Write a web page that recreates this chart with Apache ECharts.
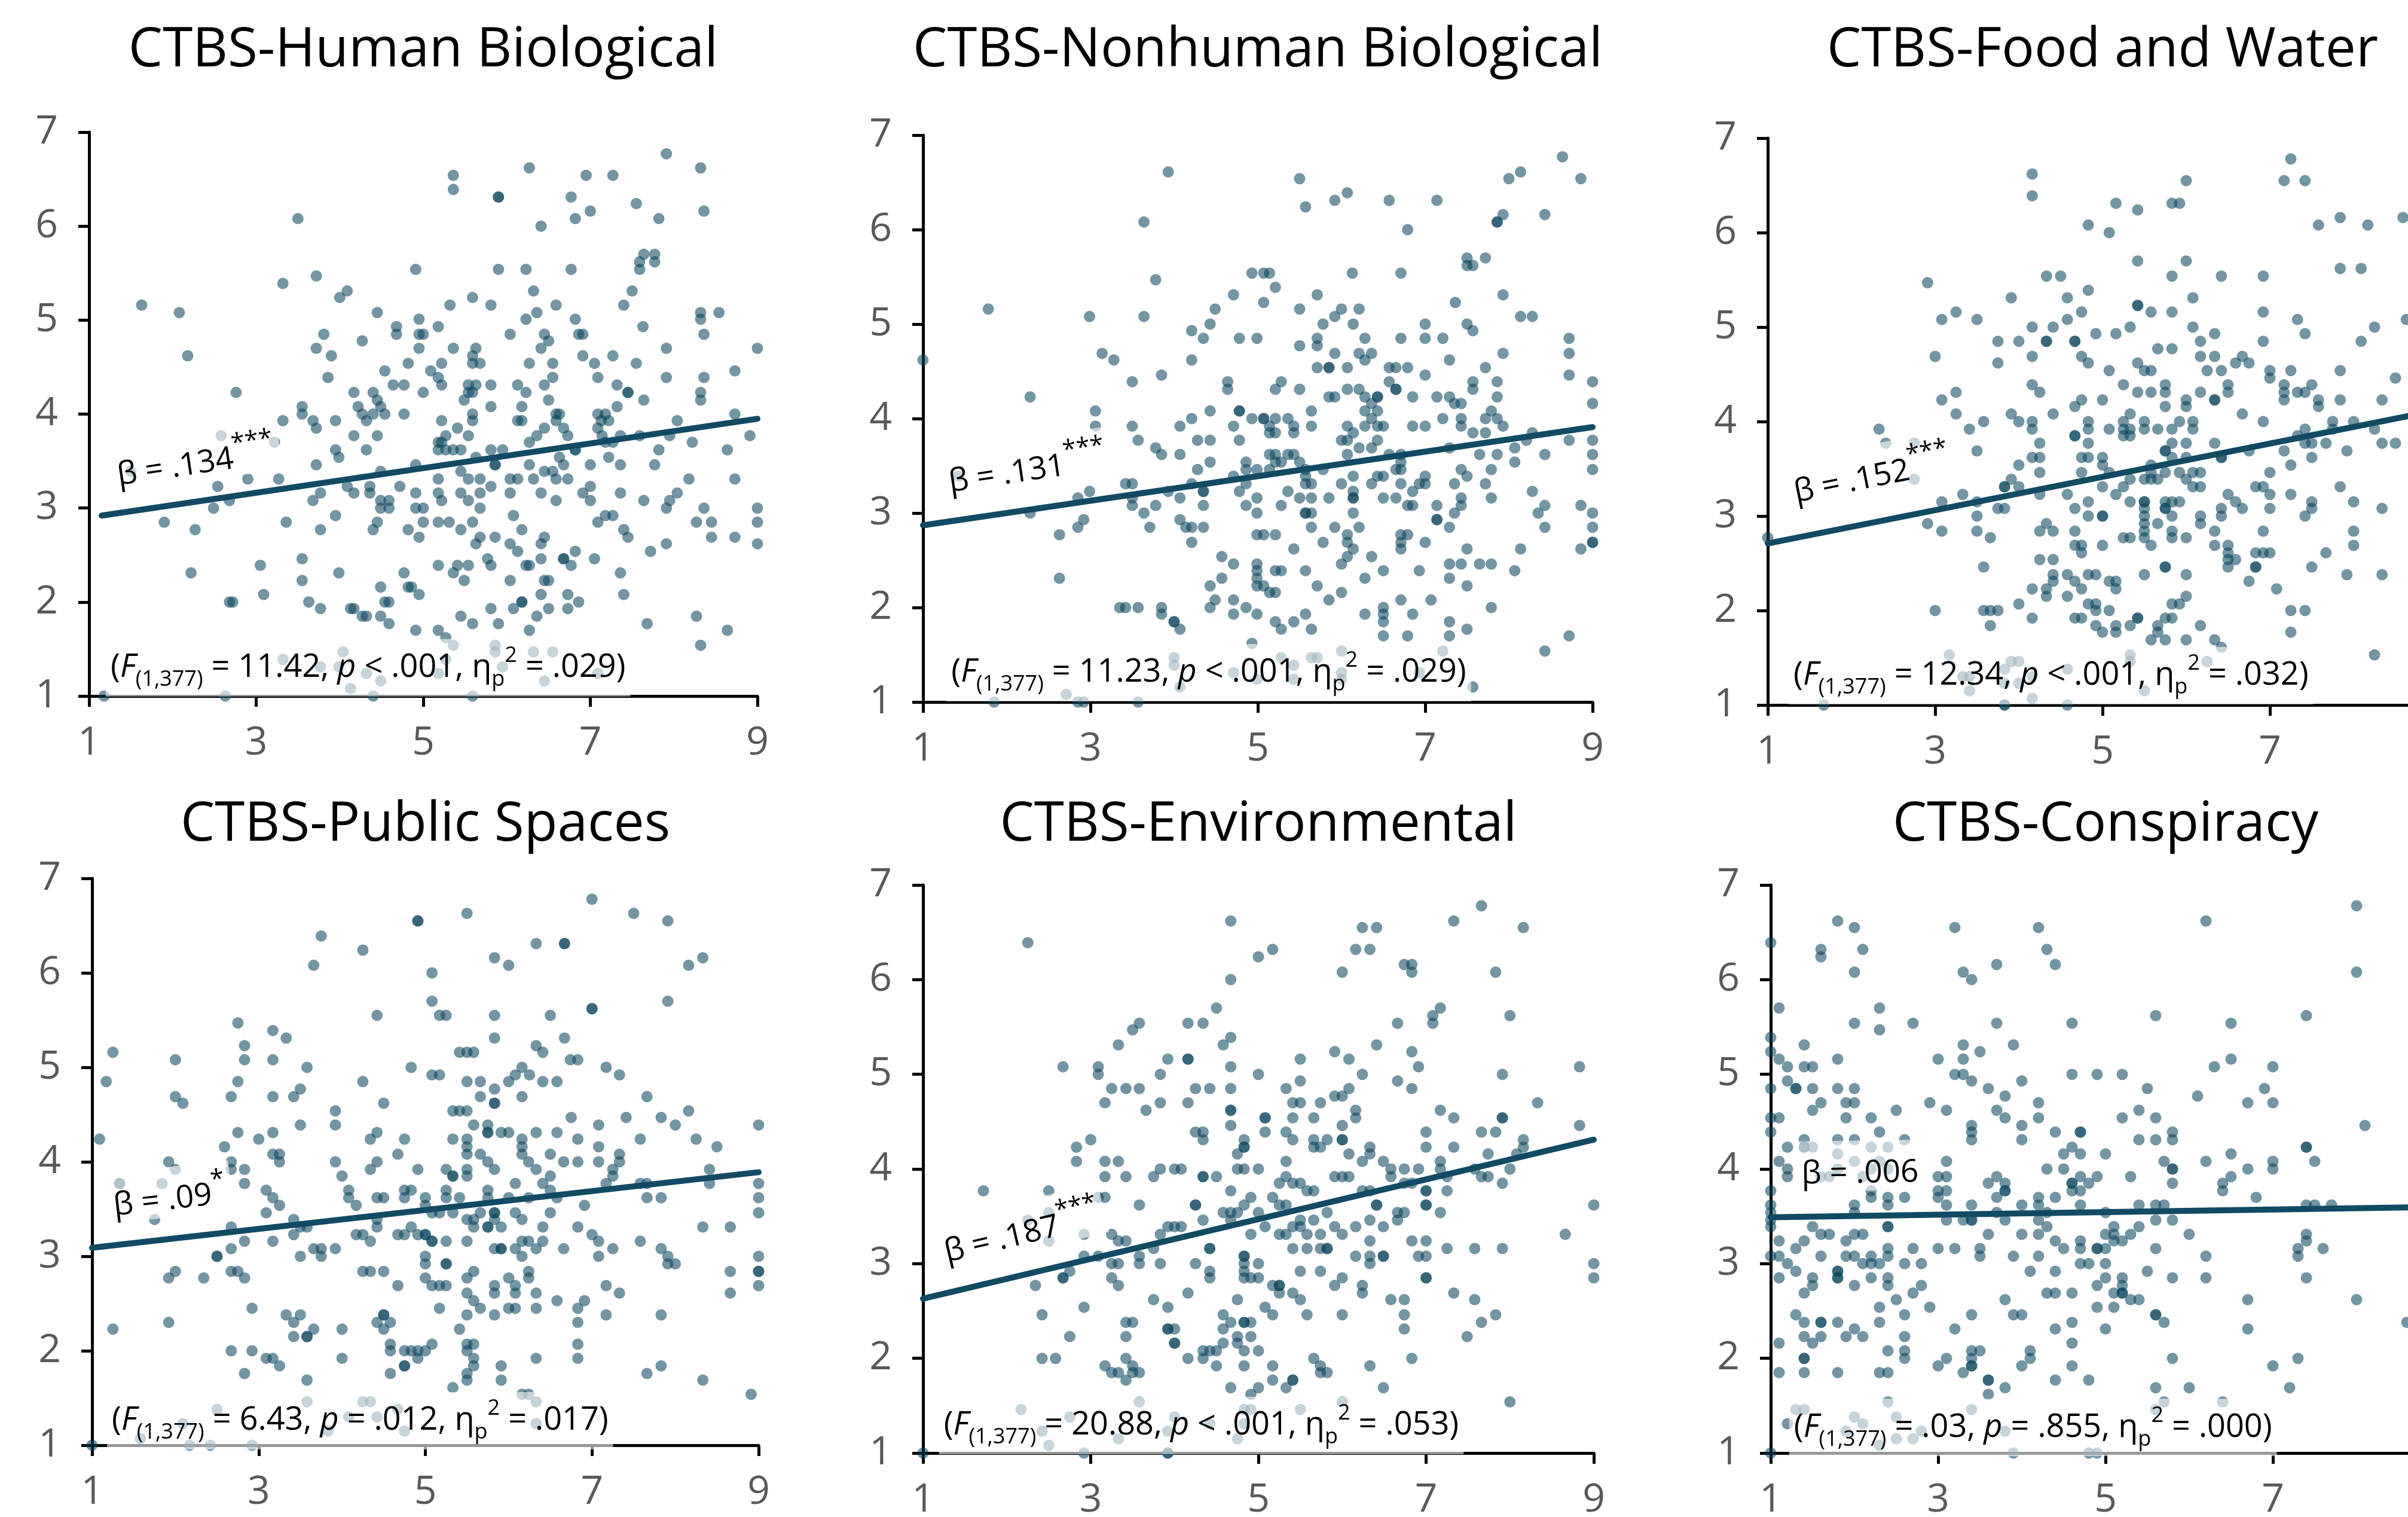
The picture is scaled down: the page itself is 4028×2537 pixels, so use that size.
<!DOCTYPE html>
<html>
<head>
<meta charset="utf-8">
<script src="https://cdn.jsdelivr.net/npm/echarts@6/dist/echarts.min.js"></script>
<style>
  html, body { margin: 0; padding: 0; background: #fff; }
  #chart { width: 4028px; height: 2537px; }
</style>
</head>
<body>
<div id="chart"></div>
<script>
// ---- data: each row is [y, [x, x, ...]] ----
const humanBioRows = [
  [6.77,[7.91]],[6.62,[6.27,8.32]],[6.54,[5.36,6.95,7.27]],[6.39,[5.36]],[6.31,[5.9,5.9,6.77]],
  [6.24,[7.55]],[6.16,[7.0,8.36]],[6.08,[3.5,6.82,7.82]],[6.0,[6.41]],[5.70,[7.64,7.77]],
  [5.62,[7.59,7.77]],[5.54,[4.91,5.90,6.23,6.77,7.59]],[5.47,[3.72]],[5.39,[3.32]],[5.31,[4.09,6.32,7.50]],
  [5.24,[4.0,5.59]],[5.16,[1.63,5.32,5.81,6.59,7.40]],[5.08,[2.08,4.45,6.36,8.32,8.54]],
  [5.01,[4.95,6.23,6.82,8.32]],[4.93,[4.68,5.18,7.63]],[4.85,[3.81,4.68,4.95,5.0,6.04,6.45,6.86,6.91,8.36]],
  [4.78,[4.27,6.50]],[4.70,[3.72,4.95,5.36,5.63,6.41,7.91,9.0]],[4.62,[2.18,3.90,5.59,6.91,7.27]],
  [4.54,[4.82,5.22,5.59,5.68,6.27,6.55,7.05,7.55]],[4.46,[4.54,5.09,8.73]],[4.39,[3.86,5.18,6.55,7.09,7.91,8.36]],
  [4.31,[4.64,4.77,5.22,5.54,5.63,5.81,6.13,6.45,7.32]],[4.23,[2.76,4.17,4.40,5.0,5.54,5.59,6.23,7.45,7.45,8.32]],
  [4.15,[4.45,5.49,6.50,7.64,8.32]],[4.08,[3.55,4.22,4.49,5.81,6.18,7.32]],
  [4.00,[3.55,4.27,4.40,4.54,4.77,5.59,6.59,6.63,7.09,7.18,8.73]],
  [3.93,[3.32,3.68,3.95,4.32,5.22,5.59,6.13,6.18,6.59,7.13,7.22,8.04]],[3.85,[3.72,5.41,6.45,6.68,7.09]],
  [3.77,[2.58,4.17,4.45,5.27,5.54,6.36,6.73,7.14,7.36,7.59,7.95,8.91]],[3.70,[3.22,5.18,5.22,6.27,7.18,7.27,8.22]],
  [3.62,[3.95,4.32,5.18,5.27,5.36,5.45,5.81,5.95,6.82,6.82,7.82,8.64]],[3.54,[3.99,5.63,6.63,7.22]],
  [3.46,[3.72,4.91,5.86,5.86,6.27,6.68,7.0,7.36,7.77]],[3.39,[1.5,4.49,5.45,6.45,6.55]],
  [3.31,[2.90,3.27,5.18,5.54,5.68,6.04,6.13,6.32,6.59,6.73,8.18,8.73]],[3.23,[2.54,4.09,4.36,4.72,5.81,7.0]],
  [3.16,[3.77,4.17,4.36,4.91,5.18,5.45,5.68,6.04,6.41,6.91,7.36,8.04]],
  [3.08,[2.68,3.68,4.49,4.59,5.22,5.54,6.59,7.0,7.64,7.95]],[3.00,[2.49,4.49,4.59,4.91,5.0,5.68,7.91,8.36,9.0]],
  [2.92,[3.95,6.08,7.18,7.27]],[2.85,[1.90,3.36,4.45,5.0,5.18,5.31,5.59,7.09,8.27,8.45,9.0]],
  [2.77,[2.27,3.77,4.40,4.82,5.45,6.18,7.40]],[2.69,[4.95,5.68,5.86,6.45,7.45,8.45,8.73]],
  [2.62,[5.63,6.04,6.41,7.91,9.0]],[2.54,[6.13,6.82,7.72]],[2.46,[3.55,5.77,6.41,6.68,6.68,7.05]],
  [2.39,[3.05,5.18,5.41,5.54,5.81,6.23,6.27,6.77]],[2.31,[2.22,3.99,4.77,5.36,7.36]],
  [2.23,[3.55,5.49,6.04,6.45,6.50]],[2.16,[4.49,4.82,4.86]],[2.08,[3.09,4.95,6.41,6.73,7.40]],
  [2.00,[2.68,2.72,3.63,4.54,4.59,6.18,6.18,6.86]],[1.93,[3.77,4.13,4.17,5.81,6.08,6.50,6.73]],
  [1.85,[4.27,4.32,4.49,5.45,6.36,8.27]],[1.77,[4.59,5.59,5.90,7.68]],[1.70,[4.91,5.18,6.27,8.64]],
  [1.62,[5.27]],[1.54,[5.36,5.86,8.32]],[1.47,[4.04,5.86,6.32,6.55]],[1.39,[3.32,5.27]],
  [1.31,[3.77,3.99,5.95]],[1.24,[4.32,5.18,7.09]],[1.16,[4.49,6.45]],[1.08,[4.13]],[1.00,[1.18,2.63,4.40,5.59]]
];
const nonhumanBioRows = [
  [6.77,[8.64]],[6.61,[3.93,8.14]],[6.54,[5.50,8.0,8.86]],[6.39,[6.07]],[6.31,[5.92,6.57,7.14]],
  [6.24,[5.57]],[6.16,[7.93,8.43]],[6.08,[3.64,7.86,7.86]],[6.0,[6.79]],[5.70,[7.50,7.72]],
  [5.62,[7.50,7.57]],[5.54,[4.93,5.07,5.14,6.13,6.71]],[5.47,[3.78]],[5.39,[5.21]],[5.31,[4.71,5.71,7.93]],
  [5.23,[5.07,7.36]],[5.16,[1.78,4.49,5.50,6.0,6.21]],[5.08,[2.99,3.64,5.92,8.14,8.28]],
  [5.0,[4.43,5.78,6.14,7.0,7.50]],[4.93,[4.21,7.57]],[4.85,[4.35,4.78,4.99,5.71,6.28,6.71,7.0,7.21,8.72]],
  [4.77,[5.50,5.71]],[4.69,[3.14,5.92,6.21,6.36,7.93,8.72]],[4.62,[1.0,3.28,4.21,6.28,7.29]],
  [4.54,[5.71,5.85,5.85,6.07,6.57,6.65,6.79,7.72]],[4.46,[3.85,7.0,8.72]],
  [4.39,[3.50,4.64,5.28,6.57,7.57,7.86,9.0]],[4.31,[4.64,5.21,5.50,6.07,6.21,6.65,6.65,7.57]],
  [4.23,[2.28,5.85,5.92,6.28,6.43,6.43,6.85,7.14,7.29,7.86]],[4.16,[6.36,7.35,7.43,9.0]],
  [4.08,[3.06,4.43,4.78,4.78,5.64,6.28,6.43,7.79]],[4.0,[4.21,4.93,5.07,5.07,5.21,5.36,6.36,7.21,7.43,7.72,7.86]],
  [3.92,[3.06,3.50,4.07,4.71,5.14,5.43,5.64,6.07,6.28,6.43,6.50,6.85,7.0,7.43,7.93]],
  [3.85,[5.14,5.21,5.43,6.14,7.57,7.72,8.28]],[3.77,[3.57,4.28,4.43,4.78,6.0,6.07,6.43,8.21,8.72,9.0]],
  [3.69,[3.78,6.21,6.36,7.29,8.07]],[3.62,[3.85,4.07,5.14,5.21,5.36,5.43,6.07,6.57,6.71,7.65,7.86,8.43,9.0]],
  [3.54,[4.43,4.86,5.21,5.28,5.50,6.71,8.07]],[3.46,[4.28,4.86,4.99,5.14,5.57,5.78,6.65,6.71,7.43,7.79,9.0]],
  [3.39,[1.42,4.71,5.57,6.14,6.43,6.50,7.0,7.50]],
  [3.31,[3.42,3.50,4.21,4.86,5.57,5.64,6.0,6.36,6.71,6.93,7.0,7.35,7.72]],
  [3.23,[2.99,3.93,4.35,4.35,4.78,5.36,6.14,6.85,8.28]],
  [3.16,[2.85,3.50,4.07,4.99,5.50,5.64,5.85,6.14,6.14,6.50,6.65,7.43,7.79]],
  [3.08,[3.50,3.78,4.35,4.86,5.28,6.79,6.85,7.14,7.43,8.43,8.86]],
  [3.0,[2.28,3.64,4.99,5.57,5.57,5.64,6.14,7.35,8.35,9.0]],[2.93,[2.92,4.07,7.14,7.14]],
  [2.85,[2.85,3.71,4.14,4.21,4.35,5.64,5.92,6.21,7.29,8.43,9.0]],[2.77,[2.63,4.99,5.07,5.21,6.07,6.71,6.79]],
  [2.69,[4.21,5.78,6.07,6.71,7.0,9.0,9.0]],[2.62,[5.43,6.14,6.71,7.50,8.14,8.86]],[2.54,[4.57,6.07,6.36]],
  [2.46,[4.71,4.99,6.0,7.29,7.43,7.65,7.79]],[2.39,[4.99,5.21,5.28,5.57,6.50,6.93,8.07]],
  [2.31,[2.63,4.57,4.99,6.28,7.29]],[2.23,[4.43,4.99,5.07,5.71,7.50]],[2.16,[5.14,5.21,6.0]],
  [2.08,[4.49,4.71,5.85,6.71,7.07]],[2.0,[3.35,3.42,3.57,3.85,4.43,4.86,6.50,7.79]],
  [1.93,[3.85,4.71,4.99,5.57,6.28,6.50,6.85]],[1.85,[4.0,4.0,5.21,5.43,6.50,7.29]],[1.77,[4.07,5.28,5.64,7.50]],
  [1.70,[6.50,6.79,7.29,8.72]],[1.62,[4.93]],[1.54,[6.0,7.21,8.43]],[1.47,[4.0,5.28,5.64,5.71]],
  [1.39,[4.0,5.43]],[1.31,[4.71,6.0,6.93]],[1.24,[4.99,5.43,6.0]],[1.16,[4.07,7.57]],[1.08,[2.71]],
  [1.0,[1.85,2.85,2.92,3.57]]
];
const foodWaterRows = [
  [6.78,[7.25]],[6.62,[4.16]],[6.55,[6.0,7.17,7.42]],[6.39,[4.16]],[6.31,[5.16,5.83,5.92]],[6.24,[5.42]],
  [6.16,[7.84,8.59]],[6.08,[4.83,7.58,8.17]],[6.0,[5.08]],[5.70,[5.42,6.0]],[5.62,[7.84,8.09]],
  [5.54,[4.33,4.50,5.83,6.42,6.92]],[5.47,[2.91]],[5.39,[4.83]],[5.31,[3.91,4.58,6.08]],[5.23,[5.42,5.42]],
  [5.16,[3.25,4.75,5.58,5.83,6.92]],[5.08,[3.08,3.50,4.58,7.33,8.63]],[5.0,[4.16,4.41,5.33,6.08,8.25]],
  [4.93,[4.92,5.16,6.34,7.42]],[4.85,[3.75,4.0,4.33,4.33,4.67,4.67,6.17,6.92,8.09]],[4.77,[5.66,5.83]],
  [4.69,[3.0,4.16,4.75,6.17,6.34,6.67]],[4.62,[3.75,4.83,5.42,6.59,6.75]],
  [4.54,[5.08,5.50,5.58,6.25,6.42,7.0,7.25,7.84]],[4.46,[7.0,8.50]],[4.39,[4.16,5.25,5.75,6.50,7.17,7.50]],
  [4.31,[3.25,4.25,5.42,5.58,5.75,6.17,6.50,7.17,7.33,7.42]],
  [4.23,[3.08,4.75,5.0,6.0,6.34,6.34,7.17,7.58,7.84,8.34]],[4.16,[4.67,5.75,6.0,7.58]],
  [4.08,[3.25,3.91,4.41,5.33,6.67]],[4.0,[3.58,4.0,4.16,4.83,5.25,5.50,5.92,6.08,6.92,7.75,8.0]],
  [3.92,[2.33,3.41,4.16,4.83,5.08,5.25,5.33,5.50,5.66,5.83,6.08,7.42,7.75,8.25]],
  [3.85,[4.67,4.67,5.25,5.33,7.33]],[3.77,[2.41,2.75,4.25,4.83,5.83,6.0,6.34,7.42,7.50,7.67,8.34,8.50]],
  [3.69,[3.50,5.75,5.75,6.75,7.17,7.92]],[3.62,[4.16,4.25,4.75,4.83,5.0,5.83,6.0,6.42,6.42,7.50]],
  [3.54,[4.0,5.0,5.58,7.25]],[3.46,[4.25,4.75,5.08,5.58,5.75,5.92,6.08,6.17,7.0]],
  [3.39,[2.75,3.91,5.33,5.50,5.58,5.66,6.0]],[3.31,[3.83,3.83,4.0,5.0,5.25,6.08,6.17,6.83,6.92,7.84]],
  [3.23,[3.33,4.25,4.58,5.16,6.50,7.0,7.25]],[3.15,[3.08,3.50,4.83,5.33,5.50,5.50,5.75,5.83,5.92,6.59,7.50,8.0]],
  [3.08,[3.75,3.83,4.67,5.50,5.75,5.75,6.42,6.67,7.0,7.50,8.34]],
  [3.0,[3.50,4.83,5.0,5.0,5.50,5.83,6.17,6.42,7.42]],[2.92,[2.91,4.33,5.50,5.66,6.17]],
  [2.84,[3.08,3.50,4.25,4.41,4.67,5.50,5.83,6.34,6.92,8.0]],[2.77,[1.0,3.66,5.25,5.33,5.50,5.83,6.0]],
  [2.69,[4.67,4.75,5.0,5.58,6.34,6.50,8.0]],[2.61,[4.75,6.50,6.83,6.92,7.0,7.67]],[2.54,[4.25,4.41,6.50,6.59]],
  [2.46,[3.58,5.75,5.75,6.50,6.83,6.83,7.50]],[2.38,[4.41,4.58,4.83,4.92,5.50,6.0,7.92,8.34]],
  [2.31,[4.41,4.67,5.08,5.16,6.75]],[2.23,[4.16,4.33,4.75,5.16,7.08]],[2.15,[4.33,4.58,6.0]],
  [2.07,[4.0,4.83,4.92,5.83,5.92]],[2.0,[3.0,3.58,3.66,3.75,4.92,5.08,7.25,7.42]],
  [1.92,[4.16,4.67,4.75,5.42,5.42,5.75,5.83]],[1.84,[3.66,4.92,5.16,5.33,5.66,6.17]],[1.77,[5.0,5.16,5.66,7.25]],
  [1.69,[5.58,5.75,6.0,6.34]],[1.61,[6.42]],[1.53,[3.17,5.33,8.25]],[1.46,[3.91,4.0,5.33,6.25]],
  [1.38,[3.83,4.58]],[1.30,[3.33,3.41,4.16]],[1.23,[3.83,4.0]],[1.15,[3.41,5.50]],[1.07,[4.16]],
  [1.0,[1.67,3.83,3.83,4.58]]
];
const publicSpacesRows = [
  [6.78,[7.0]],[6.63,[5.50,7.50]],[6.55,[4.91,4.91,7.91]],[6.39,[3.75]],[6.31,[6.33,6.67,6.67]],[6.24,[4.25]],
  [6.16,[5.83,8.33]],[6.08,[3.66,6.0,8.16]],[6.0,[5.08]],[5.70,[5.08,7.91]],[5.62,[7.0,7.0]],
  [5.55,[4.42,5.17,5.25,5.83,6.50]],[5.47,[2.75]],[5.39,[3.17]],[5.31,[3.33,5.83,6.67]],[5.23,[2.83,6.33]],
  [5.16,[1.25,5.41,5.50,5.58,6.41]],[5.08,[2.0,2.83,3.17,6.74,6.83]],[5.0,[3.58,4.83,6.16,7.17]],
  [4.92,[5.08,5.17,6.08,6.25,7.33]],[4.85,[1.17,2.75,4.25,5.50,5.66,6.0,6.41,6.58]],[4.77,[3.50,5.83]],
  [4.69,[2.0,2.67,3.17,3.42,5.66,6.16,7.66]],[4.62,[2.09,4.50,5.83,5.83]],[4.54,[3.92,5.33,5.41,5.50,8.16]],
  [4.47,[6.75,7.41,7.83]],[4.39,[3.50,3.92,5.58,5.75,7.08,8.0,9.0]],
  [4.31,[2.75,3.17,4.42,5.75,5.75,5.91,6.0,6.33,6.58]],[4.24,[1.09,3.0,4.34,4.75,5.33,5.50,6.16,6.83,7.58,8.25]],
  [4.16,[2.59,5.50,6.16,7.08,8.50]],[4.08,[3.17,3.25,4.67,5.50,5.66,6.16,6.50,7.33]],
  [4.0,[1.92,2.67,3.25,3.92,4.42,5.75,6.24,6.66,6.83,7.08,7.33]],
  [3.92,[2.0,2.67,2.83,4.34,4.91,5.25,5.50,5.83,6.33,7.25,8.41]],[3.85,[4.0,5.33,5.33,5.50,6.50,7.25]],
  [3.77,[1.33,1.33,1.84,2.83,6.08,6.41,7.17,7.58,7.66,8.41,9.0]],[3.70,[3.09,4.08,4.75,4.83,5.25,5.75,6.50]],
  [3.62,[3.17,4.08,4.42,4.50,4.75,5.0,5.25,5.41,5.75,6.0,6.24,6.58,7.66,7.83,9.0]],[3.54,[3.25,4.17,5.0,6.91]],
  [3.46,[3.09,5.08,5.17,5.33,5.66,5.83,5.83,6.08,6.50,9.0]],[3.39,[1.75,3.42,4.42,5.50,5.58,5.83,6.16]],
  [3.31,[2.67,3.50,3.58,4.42,4.83,5.58,5.75,5.75,5.91,6.41,6.83,8.33,8.66]],
  [3.23,[3.42,4.17,4.25,4.67,4.75,4.91,5.0,5.0,7.0]],
  [3.16,[2.83,3.17,4.34,5.08,5.08,5.25,5.50,6.16,6.24,6.41,7.08,7.58]],
  [3.08,[2.67,3.66,3.75,3.92,5.83,5.91,5.91,6.08,6.33,6.66,7.25,7.83]],
  [3.0,[2.50,2.50,3.50,3.75,5.0,6.16,7.08,7.91,9.0]],[2.92,[5.0,5.25,5.25,7.91,8.0]],
  [2.84,[2.0,2.67,2.75,4.25,4.34,4.50,5.58,6.24,8.66,9.0,9.0]],[2.77,[1.92,2.34,2.83,5.0,5.50,6.0,6.24]],
  [2.69,[4.67,5.08,5.17,5.25,5.83,6.08,7.17,9.0]],[2.61,[5.50,5.83,6.08,6.33,7.33,8.66]],[2.53,[5.58,6.58,6.91]],
  [2.45,[2.92,5.17,5.66,6.0,6.08,6.33,6.83]],[2.38,[3.33,3.50,4.50,4.50,5.50,5.83,7.17,7.83]],
  [2.30,[1.92,3.42,4.42,4.58,6.83]],[2.23,[1.25,3.66,4.0,4.50,5.41]],[2.15,[3.42,3.58,3.58]],
  [2.07,[4.58,5.08,5.50,5.58,6.83]],[2.0,[2.67,2.92,4.58,4.75,4.83,4.91,5.0,5.50]],
  [1.92,[3.09,3.17,4.0,4.91,5.58,6.33,6.83]],[1.84,[3.25,4.75,4.75,5.58,5.91,7.83]],[1.76,[2.83,4.58,5.50,7.66]],
  [1.69,[3.58,5.50,5.91,8.33]],[1.61,[5.33]],[1.54,[6.16,6.24,8.91]],[1.46,[3.58,4.25,4.34,6.33]],
  [1.38,[2.50,4.67]],[1.30,[4.08,4.42]],[1.23,[2.09,6.33]],[1.15,[3.83,4.75]],[1.07,[1.58]],
  [1.0,[1.0,2.17,2.42,2.92]]
];
const environmentalRows = [
  [6.78,[7.66]],[6.62,[4.67,7.33]],[6.55,[6.24,6.41,8.16]],[6.39,[2.25]],[6.32,[5.17,6.16,6.33]],[6.24,[5.0]],
  [6.16,[6.74,6.83]],[6.08,[6.0,6.83,7.83]],[6.0,[4.67]],[5.70,[4.50,7.17]],[5.62,[7.08,8.0]],
  [5.54,[3.58,4.16,4.34,6.66,7.08]],[5.47,[3.50]],[5.39,[4.67]],[5.31,[3.33,4.58,6.41]],[5.24,[5.91,6.83]],
  [5.16,[3.92,4.16,4.16,5.50,6.08]],[5.08,[2.67,3.09,4.67,6.91,8.83]],[5.0,[3.09,3.83,5.0,6.24,7.91]],
  [4.93,[5.50,6.66]],[4.85,[3.25,3.42,3.58,4.25,4.42,4.67,5.33,6.08,6.83]],[4.77,[5.91,6.0]],
  [4.70,[3.17,3.83,4.16,5.41,5.50,5.74,8.33]],[4.62,[3.66,4.67,4.67,6.16,7.17]],
  [4.54,[5.08,5.08,5.41,5.66,6.16,7.33,7.91,7.91]],[4.46,[4.67,6.0,8.83]],
  [4.39,[4.25,4.34,5.08,5.33,7.0,7.66,7.83]],[4.31,[3.0,4.34,4.83,5.41,5.66,5.82,6.0,6.0,8.16]],
  [4.23,[2.83,4.83,4.83,5.66,5.74,6.33,7.0,7.33,8.16]],[4.16,[4.75,6.08,6.33,7.74,8.08]],
  [4.08,[2.83,3.17,3.33,5.33,6.24,6.49,7.17]],[4.0,[3.83,4.0,4.08,4.75,4.83,5.0,6.58,6.74,6.91,7.17,7.58,8.0]],
  [3.92,[3.17,3.42,3.75,4.34,4.34,4.50,5.33,5.91,6.0,6.08,6.58,7.25,7.66,7.74]],
  [3.85,[5.25,5.41,5.50,6.74,6.83,7.91]],[3.77,[1.72,2.50,4.67,5.58,5.66,6.24,6.33,7.0,7.0,7.25]],
  [3.70,[3.09,3.17,4.91,5.17]],[3.62,[3.58,4.25,4.25,4.83,5.25,5.33,6.41,6.41,7.0,7.0,9.0]],
  [3.54,[2.50,4.58,4.67,4.75,5.0,5.82,6.66,6.74,7.17]],[3.46,[2.25,4.34,4.67,5.50,5.66,6.33,6.66]],
  [3.39,[3.92,4.0,4.08,5.08,5.41,5.50,5.91,6.16,6.49]],[3.31,[2.92,3.25,3.83,4.91,5.25,5.33,5.58,5.74,6.0,8.66]],
  [3.24,[2.50,3.33,3.42,6.33,6.83,7.0]],[3.16,[3.75,4.42,4.42,5.41,5.58,5.74,5.82,5.82,7.25,7.58,7.91]],
  [3.08,[2.92,3.09,3.58,4.83,4.83,6.16,6.33,6.49,6.49,6.91,7.0]],
  [3.0,[3.25,3.33,3.58,3.83,4.25,4.83,5.0,6.33,9.0]],[2.92,[2.75,4.42,4.83,5.50,5.74]],
  [2.85,[2.67,2.67,3.25,4.42,4.83,4.91,5.0,6.0,7.0,7.0,9.0]],[2.77,[2.34,3.33,5.17,5.25,5.25,5.91,6.24]],
  [2.69,[4.16,5.25,5.41,6.24,7.33]],[2.62,[3.75,4.75,5.50,6.58,6.74,7.58]],[2.54,[2.92,3.92,5.08]],
  [2.46,[2.42,4.58,5.17,5.58,6.0,6.74,7.83]],[2.38,[3.42,3.50,4.67,4.83,4.83,4.91,7.66]],
  [2.31,[3.92,3.92,4.0,4.58,6.74]],[2.23,[2.75,3.42,4.75,4.91,7.49]],[2.16,[4.0,4.0,4.58,4.75]],
  [2.08,[4.34,4.42,4.50,4.83,5.0]],[2.0,[2.42,2.58,3.42,4.16,4.34,5.66,6.83]],
  [1.92,[3.17,3.50,4.50,4.83,5.17,5.74,6.33]],[1.85,[3.25,3.33,3.50,3.58,5.74,5.82]],[1.77,[3.42,5.17,5.41,5.41]],
  [1.69,[4.67,5.0,5.33,6.49]],[1.62,[4.91]],[1.54,[3.58,6.0,8.0]],[1.46,[2.17,4.83,4.91,5.50]],
  [1.38,[2.75,4.0]],[1.31,[4.42,4.83]],[1.23,[2.42,3.92]],[1.15,[3.33,4.75]],[1.08,[2.50]],
  [1.0,[1.0,2.92,3.92,3.92]]
];
const conspiracyRows = [
  [6.78,[8.0]],[6.62,[1.80,6.20]],[6.55,[2.0,3.20,4.20]],[6.39,[1.0]],[6.32,[1.60,2.10,4.30]],[6.24,[1.60]],
  [6.16,[3.70,4.40]],[6.08,[2.0,3.30,8.0]],[6.0,[3.40]],[5.70,[1.10,2.30]],[5.62,[5.60,7.40]],
  [5.54,[2.0,2.70,3.70,4.60,6.50]],[5.47,[2.30]],[5.39,[1.0]],[5.31,[1.40,3.30,3.90]],[5.24,[1.0,3.50]],
  [5.16,[1.10,1.80,3.0,3.30,6.50]],[5.08,[1.20,1.40,1.50,6.30,7.0]],[5.0,[3.20,3.30,4.60,4.90,5.20]],
  [4.93,[1.20,3.40,4.0]],[4.85,[1.0,1.30,1.30,1.50,1.80,2.0,3.60,5.50,6.90]],[4.77,[3.80,6.10]],
  [4.70,[1.60,1.90,2.0,2.90,4.20,6.70,7.0]],[4.62,[1.50,2.50,3.10,3.70,5.40]],
  [4.54,[1.0,1.10,1.90,2.20,3.80,4.20,5.20,5.60]],[4.46,[3.40,4.0,8.10]],
  [4.39,[1.0,2.30,3.40,4.40,4.70,4.70,5.80]],[4.31,[1.40,1.80,2.0,2.60,3.40,4.0,5.40,5.60,5.80]],
  [4.23,[1.20,1.40,1.40,1.50,2.20,2.40,4.60,7.40,7.40]],[4.16,[1.80,4.50,4.70,5.0,6.50]],
  [4.08,[1.10,2.0,2.30,3.10,5.70,6.20,7.0,7.50]],[4.0,[1.20,1.80,2.20,2.40,4.30,4.50,5.80,5.80,6.70,7.0]],
  [3.92,[1.20,1.60,1.70,2.10,3.0,3.10,3.70,4.70,4.90,5.30,6.50]],[3.85,[3.60,3.80,4.60,4.60,4.80,5.80,6.40]],
  [3.77,[1.0,2.20,3.0,3.10,3.80,3.80,4.60,4.70,6.40]],[3.70,[2.20,2.40,2.60,3.0,3.70,4.20,4.40,6.80]],
  [3.62,[1.0,2.0,2.40,3.10,3.40,4.0,4.20,4.70,5.40,5.60,5.70,7.40,7.50,7.70]],[3.54,[1.0,2.0,3.70,4.30,5.0]],
  [3.46,[1.0,3.10,3.30,3.40,3.40,3.80,4.20,5.60,5.80]],[3.39,[1.0,1.50,2.40,2.40,4.30,5.10,5.40]],
  [3.31,[1.60,1.70,2.0,2.10,3.60,4.0,4.20,5.0,5.10,5.30,6.0,7.40]],[3.24,[1.10,1.40,1.90,4.40,4.70,5.10,5.20,7.40]],
  [3.16,[1.30,2.40,2.70,3.0,3.20,3.50,4.50,4.70,4.90,4.90,5.0,5.60,7.30,7.60]],
  [3.08,[1.0,1.10,1.60,1.90,2.0,2.20,2.40,3.50,3.90,4.20,6.20,7.30]],
  [3.0,[1.20,2.10,2.20,2.30,2.60,2.80,4.70,4.80,5.0]],[2.92,[1.30,1.80,1.80,4.10,4.40,5.50]],
  [2.85,[1.10,1.50,1.80,1.80,2.20,2.40,5.0,5.20,5.80,6.20,7.40]],[2.77,[1.50,2.0,2.40,2.80,4.90,5.20]],
  [2.69,[1.40,2.70,4.30,4.40,4.60,5.10,5.20,5.20]],[2.62,[2.50,3.80,5.30,5.40,6.70,8.0]],[2.54,[2.30,2.90,4.90,5.10]],
  [2.46,[1.30,2.60,3.40,3.90,4.0,5.60,5.60]],[2.38,[1.40,1.60,1.60,1.80,2.30,4.60,5.70,8.60]],
  [2.31,[2.0,3.20,4.40,5.0,6.70]],[2.23,[1.40,1.60,1.90,2.10,2.60]],[2.16,[1.10,1.50,4.60]],
  [2.08,[2.40,2.60,3.40,3.50,4.10]],[2.0,[1.40,1.40,2.60,3.10,3.40,4.10,5.80,7.30]],
  [1.92,[3.0,3.40,3.40,4.0,4.60,7.0]],[1.85,[1.10,1.40,1.80,2.30,2.40,3.30]],[1.77,[3.60,3.60,4.40,4.80]],
  [1.69,[3.80,5.60,6.0,7.20]],[1.62,[3.60]],[1.54,[2.40,5.70,6.40]],[1.46,[1.30,1.40,3.40,5.60]],
  [1.38,[2.0,2.50]],[1.31,[1.20,2.10]],[1.23,[1.90,2.80,3.80]],[1.15,[2.50,2.70]],[1.08,[2.30]],
  [1.0,[1.0,3.90,4.80,4.90]]
];

// regression line end points
const humanBioLine = [[1.15, 2.92], [9, 3.95]];
const nonhumanBioLine = [[1, 2.87], [9, 3.91]];
const foodWaterLine = [[1, 2.71], [9, 4.12]];
const publicSpacesLine = [[1, 3.09], [9, 3.89]];
const environmentalLine = [[1, 2.63], [9, 4.31]];
const conspiracyLine = [[1, 3.49], [9, 3.60]];

const panelTitles = ['CTBS-Human Biological', 'CTBS-Nonhuman Biological', 'CTBS-Food and Water',
  'CTBS-Public Spaces', 'CTBS-Environmental', 'CTBS-Conspiracy'];
const betaValues = ['.134', '.131', '.152', '.09', '.187', '.006'];
const betaStars = ['***', '***', '***', '*', '***', ''];
const fValues = ['11.42', '11.23', '12.34', '6.43', '20.88', '.03'];
const pValues = ['< .001', '< .001', '< .001', '= .012', '< .001', '= .855'];
const etaValues = ['.029', '.029', '.032', '.017', '.053', '.000'];

const xTicks = [1, 9, 2];   // min, max, step
const yTicks = [1, 7, 1];

// ---- layout ----
const panelRows = [humanBioRows, nonhumanBioRows, foodWaterRows, publicSpacesRows, environmentalRows, conspiracyRows];
const panelLines = [humanBioLine, nonhumanBioLine, foodWaterLine, publicSpacesLine, environmentalLine, conspiracyLine];
const boxes = [
  [149, 221, 1118, 943], [1544, 226, 1120, 948], [2957, 231, 1120, 948],
  [154, 1469, 1115, 948], [1544, 1480, 1122, 950], [2962, 1480, 1120, 950]
];
const titleY = [85, 85, 85, 1380, 1380, 1380];
// anchors (data coords): beta label bottom-left, stats text left-middle
const betaAnchor = [[1.30, 3.15], [1.27, 3.13], [1.29, 3.05], [1.21, 3.34], [1.24, 2.92], [1.30, 3.76]];
const statAnchor = [[1.20, 1.30], [1.28, 1.31], [1.25, 1.31], [1.18, 1.26], [1.19, 1.29], [1.22, 1.27]];

const FONT = '"Open Sans", "Noto Sans", sans-serif';
const DOT = 'rgba(8,66,91,0.70)';
const LINE = '#124a63';

const chart = echarts.init(document.getElementById('chart'));

const grid = [], xAxis = [], yAxis = [], series = [];
boxes.forEach(function (b, i) {
  grid.push({ left: b[0], top: b[1], width: b[2], height: b[3], containLabel: false, outerBoundsMode: 'none' });
  xAxis.push({
    gridIndex: i, type: 'value', min: xTicks[0], max: xTicks[1], interval: xTicks[2],
    axisLine: { show: true, onZero: false, lineStyle: { color: '#000', width: 5 } },
    axisTick: { show: true, length: 18, lineStyle: { color: '#000', width: 5 } },
    splitLine: { show: false },
    axisLabel: { fontSize: 66, color: '#595959', fontFamily: FONT, margin: 46 }
  });
  yAxis.push({
    gridIndex: i, type: 'value', min: yTicks[0], max: yTicks[1], interval: yTicks[2],
    axisLine: { show: true, onZero: false, lineStyle: { color: '#000', width: 5 } },
    axisTick: { show: true, length: 18, lineStyle: { color: '#000', width: 5 } },
    splitLine: { show: false },
    axisLabel: { fontSize: 66, color: '#595959', fontFamily: FONT, margin: 52 }
  });
  const pts = [];
  panelRows[i].forEach(function (r) {
    r[1].forEach(function (x) { pts.push([x, r[0]]); });
  });
  series.push({
    type: 'scatter', xAxisIndex: i, yAxisIndex: i, data: pts,
    symbolSize: 19, itemStyle: { color: DOT }, silent: true, z: 2
  });
  series.push({
    type: 'line', xAxisIndex: i, yAxisIndex: i, data: panelLines[i],
    symbol: 'none', silent: true, z: 3,
    lineStyle: { color: LINE, width: 10, cap: 'round' }
  });
});

chart.setOption({
  animation: false,
  backgroundColor: '#fff',
  grid: grid, xAxis: xAxis, yAxis: yAxis, series: series
});

// ---- titles and annotations ----
const elements = [];
boxes.forEach(function (b, i) {
  elements.push({
    type: 'text', x: b[0] + b[2] / 2, y: titleY[i], z: 20,
    style: {
      text: panelTitles[i], fontSize: 91, fontFamily: FONT, fill: '#000',
      align: 'center', verticalAlign: 'middle', textAlign: 'center', textVerticalAlign: 'middle'
    }
  });

  const L = panelLines[i];
  const p0 = chart.convertToPixel({ gridIndex: i }, L[0]);
  const p1 = chart.convertToPixel({ gridIndex: i }, L[1]);
  const angle = Math.atan2(p0[1] - p1[1], p1[0] - p0[0]);

  const ba = chart.convertToPixel({ gridIndex: i }, betaAnchor[i]);
  elements.push({
    type: 'text', x: ba[0], y: ba[1], rotation: angle, z: 20,
    style: {
      text: '{n|β = ' + betaValues[i] + '}' + (betaStars[i] ? '{s|' + betaStars[i] + '}' : ''),
      align: 'left', verticalAlign: 'bottom', textAlign: 'left', textVerticalAlign: 'bottom',
      fontSize: 53, fontFamily: FONT, fill: '#000',
      backgroundColor: 'rgba(255,255,255,0.6)', padding: [10, 10, 2, 10],
      rich: {
        n: { fontSize: 53, fontFamily: FONT, fill: '#000', lineHeight: 72, verticalAlign: 'bottom' },
        s: { fontSize: 42, fontFamily: FONT, fill: '#000', lineHeight: 50, verticalAlign: 'top' }
      }
    }
  });

  const sa = chart.convertToPixel({ gridIndex: i }, statAnchor[i]);
  elements.push({
    type: 'text', x: sa[0], y: sa[1], z: 20,
    style: {
      text: '{n|(}{i|F}{sub|(1,377)}{n| = ' + fValues[i] + ', }{i|p}{n| ' + pValues[i] +
        ', η}{sub|p}{sup|2}{n| = ' + etaValues[i] + ')}',
      align: 'left', verticalAlign: 'middle', textAlign: 'left', textVerticalAlign: 'middle',
      fontSize: 54, fontFamily: FONT, fill: '#000',
      backgroundColor: 'rgba(255,255,255,0.6)', padding: [10, 8, 10, 8],
      rich: {
        n: { fontSize: 54, fontFamily: FONT, fill: '#000', lineHeight: 76 },
        i: { fontSize: 54, fontFamily: FONT, fontStyle: 'italic', fill: '#000', lineHeight: 76 },
        sub: { fontSize: 36, fontFamily: FONT, fill: '#000', lineHeight: 40, verticalAlign: 'bottom' },
        sup: { fontSize: 36, fontFamily: FONT, fill: '#000', lineHeight: 64, verticalAlign: 'top' }
      }
    }
  });
});

chart.setOption({ graphic: { elements: elements } });
</script>
</body>
</html>
